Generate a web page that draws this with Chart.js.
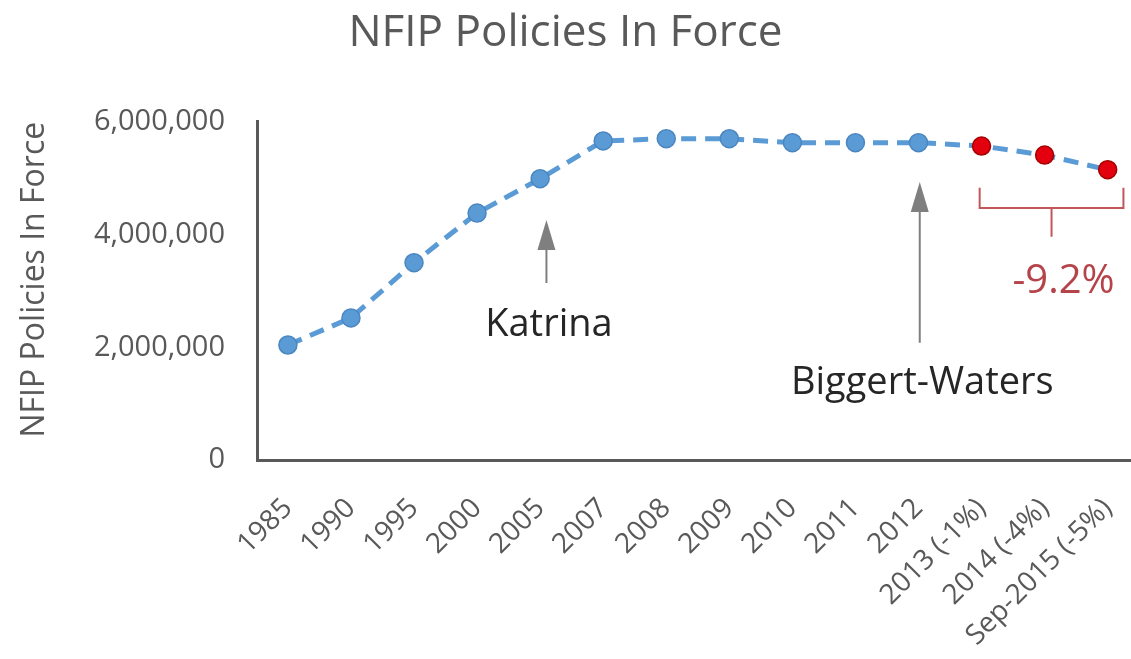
<!DOCTYPE html>
<html>
<head>
<meta charset="utf-8">
<title>NFIP Policies In Force</title>
<script src="https://cdn.jsdelivr.net/npm/chart.js@4.4.1/dist/chart.umd.min.js"></script>
<style>
  html, body { margin: 0; padding: 0; background: #fff; }
  #wrap { width: 1131px; height: 659px; }
</style>
</head>
<body>
<div id="wrap"><canvas id="policyChart"></canvas></div>
<script>
// data
const periods = ['1985', '1990', '1995', '2000', '2005', '2007', '2008', '2009', '2010', '2011', '2012',
                 '2013 (-1%)', '2014 (-4%)', 'Sep-2015 (-5%)'];
const policies = [2040000, 2520000, 3500000, 4380000, 4990000, 5660000, 5700000, 5700000, 5630000, 5630000, 5630000,
                  5570000, 5410000, 5150000];
const yTicks = [0, 2000000, 4000000, 6000000];
const declineFrom = 11; // first period after Biggert-Waters drawn in red
const declineLabel = '-9.2%';

// annotation placement, in data units (category index / policies)
const arrowNotes = [
  { text: 'Katrina', x: 4.1, tip: 4260000, base: 3140000, textX: 4.14, textY: 2390000 },
  { text: 'Biggert-Waters', x: 10.02, tip: 4930000, base: 2080000, textX: 10.06, textY: 1370000 }
];
const bracketNote = { from: 10.97, to: 13.25, top: 4830000, y: 4470000, stem: 3960000, textX: 12.3, textY: 3160000 };

const FONT = 'Open Sans';
const BLUE = '#5b9bd5';
const RED = '#e3000f';

const notesPlugin = {
  id: 'notes',
  afterDatasetsDraw(chart) {
    const { ctx, scales: { x, y } } = chart;
    ctx.save();

    // arrows + labels
    arrowNotes.forEach(n => {
      const px = x.getPixelForValue(n.x);
      const tip = y.getPixelForValue(n.tip);
      const base = y.getPixelForValue(n.base);
      ctx.strokeStyle = '#7f7f7f';
      ctx.fillStyle = '#7f7f7f';
      ctx.lineWidth = 2;
      ctx.beginPath();
      ctx.moveTo(px, base);
      ctx.lineTo(px, tip + 26);
      ctx.stroke();
      ctx.beginPath();
      ctx.moveTo(px, tip);
      ctx.lineTo(px - 9, tip + 30);
      ctx.lineTo(px + 9, tip + 30);
      ctx.closePath();
      ctx.fill();

      ctx.fillStyle = '#262626';
      ctx.font = '38px "' + FONT + '"';
      ctx.textAlign = 'center';
      ctx.textBaseline = 'middle';
      ctx.fillText(n.text, x.getPixelForValue(n.textX), y.getPixelForValue(n.textY));
    });

    // bracket over the decline
    const b = bracketNote;
    const bx0 = x.getPixelForValue(b.from);
    const bx1 = x.getPixelForValue(b.to);
    const bTop = y.getPixelForValue(b.top);
    const bY = y.getPixelForValue(b.y);
    const bMid = (bx0 + bx1) / 2;
    ctx.strokeStyle = '#c0575a';
    ctx.lineWidth = 2;
    ctx.beginPath();
    ctx.moveTo(bx0, bTop);
    ctx.lineTo(bx0, bY);
    ctx.lineTo(bx1, bY);
    ctx.lineTo(bx1, bTop);
    ctx.moveTo(bMid, bY);
    ctx.lineTo(bMid, y.getPixelForValue(b.stem));
    ctx.stroke();

    ctx.fillStyle = '#b4444a';
    ctx.font = '40px "' + FONT + '"';
    ctx.textAlign = 'center';
    ctx.textBaseline = 'middle';
    ctx.fillText(declineLabel, x.getPixelForValue(b.textX), y.getPixelForValue(b.textY));

    ctx.restore();
  }
};

const ctx = document.getElementById('policyChart').getContext('2d');
new Chart(ctx, {
  type: 'line',
  data: {
    datasets: [{
      label: 'NFIP Policies In Force',
      data: policies.map((v, i) => ({ x: i, y: v })),
      borderColor: BLUE,
      borderWidth: 5,
      borderDash: [15, 9],
      tension: 0,
      clip: false,
      pointRadius: 9,
      pointBorderWidth: 1.5,
      pointBackgroundColor: policies.map((_, i) => i >= declineFrom ? RED : BLUE),
      pointBorderColor: policies.map((_, i) => i >= declineFrom ? '#a40000' : '#4a86c0')
    }]
  },
  options: {
    responsive: true,
    maintainAspectRatio: false,
    animation: false,
    layout: { padding: 0, autoPadding: false },
    plugins: {
      legend: { display: false },
      tooltip: { enabled: false },
      title: {
        display: true,
        text: 'NFIP Policies In Force',
        color: '#595959',
        font: { family: FONT, size: 44, weight: 'normal' },
        padding: { top: 7, bottom: 62 }
      }
    },
    scales: {
      x: {
        type: 'linear',
        min: -0.49,
        max: 13.37,
        grid: { display: false, drawTicks: false },
        border: { color: '#595959', width: 3 },
        afterBuildTicks: s => { s.ticks = periods.map((_, i) => ({ value: i })); },
        afterFit: s => { s.height = 199; s.paddingLeft = 0; s.paddingRight = 0; },
        ticks: {
          callback: v => periods[v],
          minRotation: 45,
          maxRotation: 45,
          autoSkip: false,
          padding: 32,
          color: '#595959',
          font: { family: FONT, size: 28 }
        }
      },
      y: {
        min: 0,
        max: 6000000,
        grid: { display: false, drawTicks: false },
        border: { color: '#595959', width: 3 },
        afterBuildTicks: s => { s.ticks = yTicks.map(v => ({ value: v })); },
        afterFit: s => { s.width = 257; },
        ticks: {
          callback: v => v.toLocaleString('en-US'),
          padding: 32,
          color: '#595959',
          font: { family: FONT, size: 29 }
        },
        title: {
          display: true,
          text: 'NFIP Policies In Force',
          color: '#595959',
          align: 'end',
          font: { family: FONT, size: 32 },
          padding: { top: 16, bottom: 0 }
        }
      }
    }
  },
  plugins: [notesPlugin]
});
</script>
</body>
</html>
